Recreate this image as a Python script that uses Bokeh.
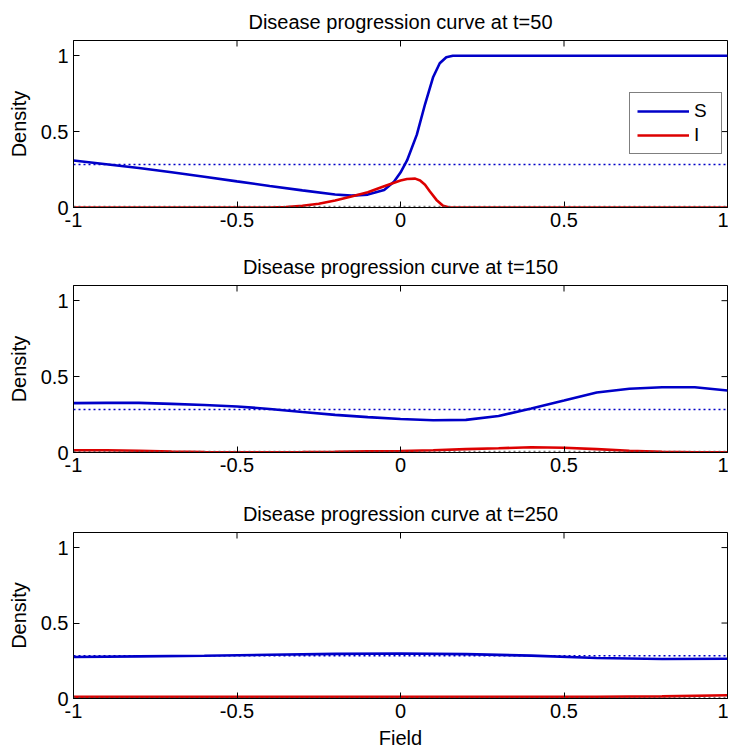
import math
from bokeh.plotting import figure
from bokeh.layouts import column
from bokeh.models import (FixedTicker, Range1d, Legend, LegendItem, Span)
from bokeh.embed import file_html
from bokeh.resources import INLINE

# ---------------- data ----------------
TITLES = ["Disease progression curve at t=50",
          "Disease progression curve at t=150",
          "Disease progression curve at t=250"]
X_TICKS = [-1, -0.5, 0, 0.5, 1]
X_TICK_LABELS = ["-1", "-0.5", "0", "0.5", "1"]
Y_TICKS = [0, 0.5, 1]
Y_TICK_LABELS = ["0", "0.5", "1"]
FIELD_RANGE = [-1, 1]
DENSITY_RANGE = [0, 1.1]
S_STAR = 0.284
I_STAR = 0.008

# t = 50
X1_S = [-1.0, -0.9, -0.8, -0.7, -0.6, -0.5, -0.4, -0.3, -0.2, -0.15, -0.1, -0.05,
        -0.02, 0.0, 0.02, 0.05, 0.075, 0.1, 0.12, 0.14, 0.16, 0.3, 0.5, 0.7, 1.0]
S1 = [0.31, 0.285, 0.26, 0.232, 0.203, 0.172, 0.142, 0.113, 0.086, 0.078, 0.085, 0.115,
      0.17, 0.23, 0.31, 0.48, 0.68, 0.86, 0.95, 0.99, 1.0, 1.0, 1.0, 1.0, 1.0]
X1_I = [-1.0, -0.4, -0.35, -0.3, -0.25, -0.2, -0.15, -0.1, -0.05, 0.0, 0.02, 0.045,
        0.06, 0.075, 0.09, 0.11, 0.13, 0.15, 0.5, 1.0]
I1 = [0.0, 0.0, 0.003, 0.011, 0.025, 0.046, 0.072, 0.10, 0.14, 0.178, 0.188, 0.19,
      0.178, 0.15, 0.105, 0.05, 0.012, 0.0, 0.0, 0.0]

# t = 150
X2 = [-1.0, -0.9, -0.8, -0.7, -0.6, -0.5, -0.4, -0.3, -0.2, -0.1, 0.0,
      0.1, 0.2, 0.3, 0.4, 0.5, 0.6, 0.7, 0.8, 0.9, 1.0]
S2 = [0.325, 0.327, 0.327, 0.32, 0.313, 0.303, 0.287, 0.267, 0.248, 0.233, 0.221,
      0.212, 0.215, 0.24, 0.29, 0.342, 0.395, 0.42, 0.43, 0.43, 0.408]
I2 = [0.015, 0.015, 0.012, 0.006, 0.003, 0.002, 0.002, 0.003, 0.005, 0.008, 0.01,
      0.015, 0.022, 0.028, 0.035, 0.031, 0.022, 0.012, 0.004, 0.002, 0.002]

# t = 250
X3 = [-1.0, -0.8, -0.6, -0.4, -0.2, 0.0, 0.2, 0.4, 0.6, 0.8, 1.0]
S3 = [0.275, 0.279, 0.283, 0.29, 0.296, 0.298, 0.294, 0.284, 0.268, 0.262, 0.263]
I3 = [0.012, 0.012, 0.012, 0.012, 0.012, 0.012, 0.012, 0.012, 0.012, 0.014, 0.022]

# ---------------- style ----------------
FONT = "Liberation Sans"
FS = "20px"
S_COLOR = "#0000C8"
I_COLOR = "#DD0000"


def style_axis(ax, ticks, labels):
    ax.ticker = FixedTicker(ticks=ticks)
    ax.major_label_overrides = {float(t): l for t, l in zip(ticks, labels)}
    ax.major_tick_in = 6
    ax.major_tick_out = 0
    ax.minor_tick_line_color = None
    ax.axis_line_color = "black"
    ax.major_tick_line_color = "black"
    ax.major_label_text_font = FONT
    ax.major_label_text_font_size = FS
    ax.major_label_text_color = "black"
    ax.axis_label_text_font = FONT
    ax.axis_label_text_font_size = FS
    ax.axis_label_text_font_style = "normal"
    ax.axis_label_text_color = "black"


def make_panel(title, xs, s, xi, i, top, bottom, fh, xlabel=None, legend=False):
    p = figure(frame_width=654, frame_height=fh,
               x_range=Range1d(*FIELD_RANGE), y_range=Range1d(*DENSITY_RANGE),
               output_backend="svg", toolbar_location=None,
               min_border_left=73, min_border_right=1,
               min_border_top=top, min_border_bottom=bottom,
               title=title)
    p.title.text_font = FONT
    p.title.text_font_size = FS
    p.title.text_font_style = "normal"
    p.title.align = "center"
    p.title.text_color = "black"
    p.title.standoff = 15
    p.grid.visible = False
    p.outline_line_color = "black"
    p.outline_line_width = 1
    p.background_fill_color = "white"
    p.border_fill_color = "white"

    style_axis(p.xaxis[0], X_TICKS, X_TICK_LABELS)
    p.xaxis[0].major_label_standoff = 5
    style_axis(p.yaxis[0], Y_TICKS, Y_TICK_LABELS)
    p.yaxis[0].major_label_standoff = 5
    p.yaxis[0].axis_label = "Density"
    p.yaxis[0].axis_label_standoff = 8
    if xlabel:
        p.xaxis[0].axis_label = xlabel
        p.xaxis[0].axis_label_standoff = 6

    # MATLAB-style inward ticks on the top and right edges of the box
    p.scatter(X_TICKS, [DENSITY_RANGE[1]] * len(X_TICKS), marker="dash",
              angle=math.pi / 2, size=12, line_color="black", line_width=1)
    p.scatter([FIELD_RANGE[1]] * len(Y_TICKS), Y_TICKS, marker="dash",
              size=12, line_color="black", line_width=1)

    p.add_layout(Span(location=S_STAR, dimension="width", line_color=S_COLOR,
                      line_dash="2 3", line_width=1.5))
    p.add_layout(Span(location=I_STAR, dimension="width", line_color="#555555",
                      line_dash="2 3", line_width=1))

    rs = p.line(xs, s, line_color=S_COLOR, line_width=2.6)
    ri = p.line(xi, i, line_color=I_COLOR, line_width=2.6)

    if legend:
        lg = Legend(items=[LegendItem(label="S", renderers=[rs]),
                           LegendItem(label="I", renderers=[ri])],
                    location=(556, 53))
        lg.label_text_font = FONT
        lg.label_text_font_size = "19px"
        lg.label_text_color = "black"
        lg.glyph_width = 52
        lg.glyph_height = 20
        lg.label_standoff = 5
        lg.padding = 7
        lg.spacing = 2
        lg.margin = 0
        lg.border_line_color = "black"
        lg.border_line_width = 1
        lg.background_fill_color = "white"
        lg.background_fill_alpha = 1
        p.add_layout(lg)
    return p


p1 = make_panel(TITLES[0], X1_S, S1, X1_I, I1, 40, 38, 167, legend=True)
p2 = make_panel(TITLES[1], X2, S2, X2, I2, 40, 40, 167)
p3 = make_panel(TITLES[2], X3, S3, X3, I3, 40, 52, 166, xlabel="Field")

layout = column(p1, p2, p3, spacing=0)
open("out.html", "w").write(file_html(layout, INLINE))
